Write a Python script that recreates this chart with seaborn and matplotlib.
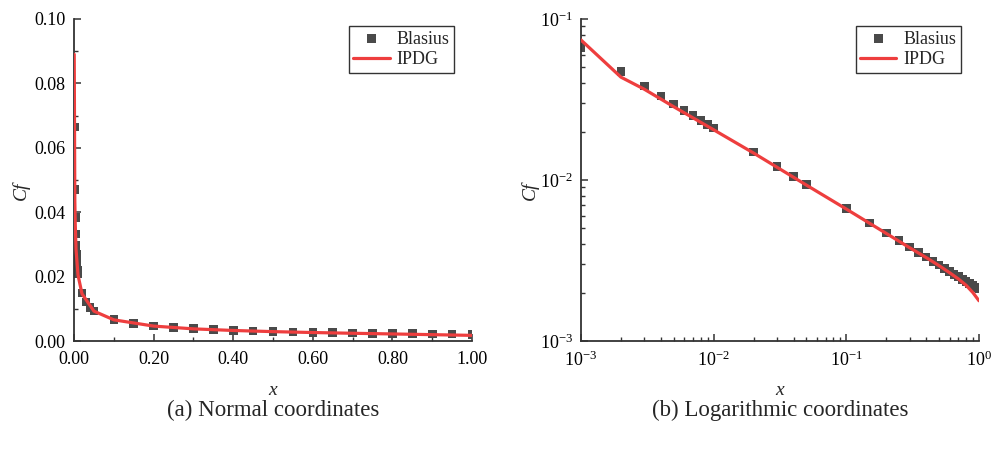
import numpy as np
import pandas as pd
import matplotlib
matplotlib.use("Agg")
import matplotlib.pyplot as plt
from matplotlib.ticker import MultipleLocator, LogLocator, FormatStrFormatter, NullFormatter
import seaborn as sns

# Blasius reference skin-friction values
blasius_x = [0.001, 0.002, 0.003, 0.004, 0.005, 0.006, 0.007, 0.008, 0.009, 0.010,
             0.02, 0.03, 0.04, 0.05,
             0.10, 0.15, 0.20, 0.25, 0.30, 0.35, 0.40, 0.45, 0.50, 0.55,
             0.60, 0.65, 0.70, 0.75, 0.80, 0.85, 0.90, 0.95, 1.00]
blasius_cf = [0.0664, 0.0470, 0.0383, 0.0332, 0.0297, 0.0271, 0.0251, 0.0235, 0.0221, 0.0210,
              0.0149, 0.0121, 0.0105, 0.0094,
              0.00664, 0.00542, 0.00470, 0.00420, 0.00383, 0.00355, 0.00332, 0.00313, 0.00297, 0.00283,
              0.00271, 0.00260, 0.00251, 0.00242, 0.00235, 0.00228, 0.00221, 0.00215, 0.00210]

# IPDG solution along the plate
ipdg_x = [0.0005, 0.001, 0.002, 0.003, 0.005, 0.010, 0.020, 0.050,
          0.10, 0.20, 0.30, 0.40, 0.50, 0.60, 0.70, 0.80, 0.90, 1.00]
ipdg_cf = [0.089, 0.0740, 0.0435, 0.0366, 0.0285, 0.0205, 0.0147, 0.0093,
           0.00660, 0.00466, 0.00380, 0.00330, 0.00294, 0.00266, 0.00243, 0.00222, 0.00200, 0.00178]

captions = ["(a) Normal coordinates", "(b) Logarithmic coordinates"]

sns.set_theme(style="ticks")
plt.rcParams["font.family"] = ["Liberation Serif", "DejaVu Serif"]
plt.rcParams["mathtext.fontset"] = "custom"
plt.rcParams["mathtext.rm"] = "Liberation Serif"
plt.rcParams["mathtext.it"] = "Liberation Serif:italic"
plt.rcParams["axes.unicode_minus"] = False

blasius = pd.DataFrame({"x": blasius_x, "Cf": blasius_cf})
ipdg = pd.DataFrame({"x": ipdg_x, "Cf": ipdg_cf})

fig = plt.figure(figsize=(9.95, 4.5), dpi=100)
ax1 = fig.add_axes([0.0744, 0.242, 0.400, 0.716])
ax2 = fig.add_axes([0.5839, 0.242, 0.400, 0.716])

marker_color = "#4a4a4a"
line_color = "#ee3e3e"
spine_color = "#333333"
tick_fs = 13

for ax in (ax1, ax2):
    sns.scatterplot(data=blasius, x="x", y="Cf", ax=ax, marker="s", s=38,
                    color=marker_color, edgecolor="none", label="Blasius", zorder=2)
    sns.lineplot(data=ipdg, x="x", y="Cf", ax=ax, color=line_color, lw=2.3,
                 estimator=None, sort=False, label="IPDG", zorder=3)
    for side in ("top", "right"):
        ax.spines[side].set_visible(False)
    for side in ("left", "bottom"):
        ax.spines[side].set_color(spine_color)
        ax.spines[side].set_linewidth(1.3)
    ax.tick_params(which="both", direction="in", color=spine_color, labelsize=tick_fs,
                   labelcolor="black")
    ax.tick_params(which="major", length=5, width=1.1)
    ax.tick_params(which="minor", length=3, width=1.0)
    ax.tick_params(axis="x", which="major", pad=7)
    ax.tick_params(axis="y", which="major", pad=6)
    ax.set_xlabel("x", fontstyle="italic", fontsize=14)
    ax.set_ylabel("Cf", fontstyle="italic", fontsize=14)
    ax.xaxis.set_label_coords(0.5, -0.128)
    leg = ax.legend(loc="upper right", bbox_to_anchor=(0.955, 0.978), frameon=True,
                    fancybox=False, edgecolor="black", fontsize=13, handlelength=2.0,
                    handletextpad=0.4, borderpad=0.25, labelspacing=0.2, borderaxespad=0.0)
    leg.get_frame().set_linewidth(1.0)

ax1.yaxis.set_label_coords(-0.110, 0.465)
ax2.yaxis.set_label_coords(-0.105, 0.465)

# linear axes
ax1.set_xlim(0, 1.0)
ax1.set_ylim(0, 0.10)
ax1.xaxis.set_major_locator(MultipleLocator(0.2))
ax1.xaxis.set_minor_locator(MultipleLocator(0.1))
ax1.yaxis.set_major_locator(MultipleLocator(0.02))
ax1.yaxis.set_minor_locator(MultipleLocator(0.01))
ax1.xaxis.set_major_formatter(FormatStrFormatter("%.2f"))
ax1.yaxis.set_major_formatter(FormatStrFormatter("%.2f"))

# logarithmic axes
ax2.set_xscale("log")
ax2.set_yscale("log")
ax2.set_xlim(1e-3, 1.0)
ax2.set_ylim(1e-3, 1e-1)
for axis in (ax2.xaxis, ax2.yaxis):
    axis.set_major_locator(LogLocator(base=10, numticks=10))
    axis.set_minor_locator(LogLocator(base=10, subs=np.arange(2, 10), numticks=20))
    axis.set_minor_formatter(NullFormatter())

fig.text(0.2744, 0.088, captions[0], ha="center", va="center", fontsize=16.5)
fig.text(0.7839, 0.088, captions[1], ha="center", va="center", fontsize=16.5)

fig.savefig("out.png", dpi=100, facecolor="white")
